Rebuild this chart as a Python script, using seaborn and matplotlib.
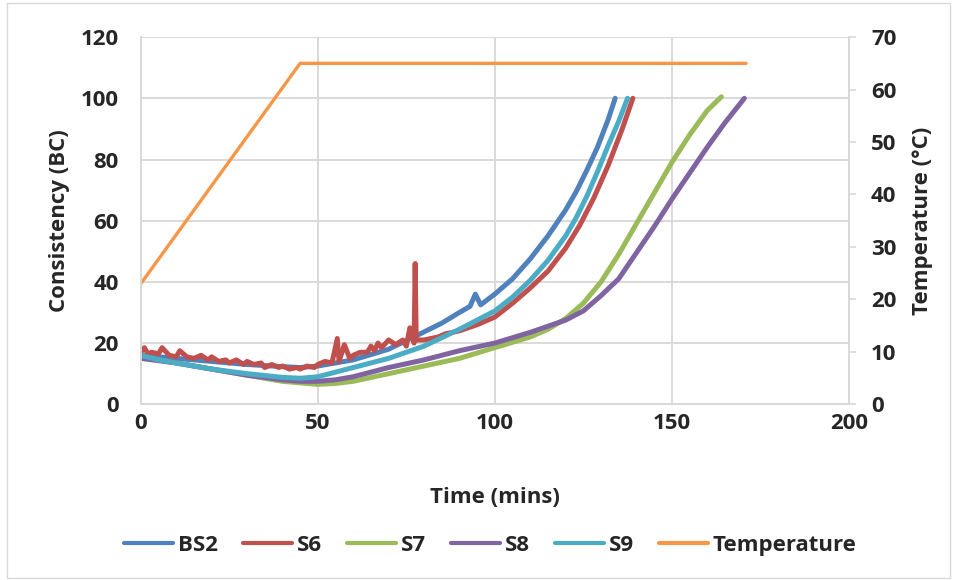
import numpy as np
import pandas as pd
import matplotlib
matplotlib.use("Agg")
import matplotlib.pyplot as plt
import seaborn as sns
from matplotlib.patches import Rectangle

# ---- data ----
bs2_x = [0, 10, 20, 30, 40, 45, 50, 60, 70, 78, 85, 90, 93, 94.5, 96, 100, 105, 110, 115, 120, 123, 126, 129, 132, 134]
bs2_y = [16, 15, 14, 13, 12.3, 12, 12.5, 14.5, 18, 22.5, 26.5, 30, 32, 36, 32.5, 36, 41, 47.5, 55, 63.5, 69.5, 76.5, 84, 93, 100]

s6_x = [0, 1, 2, 3, 5, 6, 8, 10, 11, 13, 15, 17, 19, 20, 22, 24, 25, 27, 29, 30, 32, 34, 35, 37, 39, 40,
        42, 44, 45, 47, 49, 50, 52, 54, 55.5, 56, 57.5, 59, 60, 62, 64, 65, 66, 67, 68, 70, 72, 74, 75,
        76, 77.2, 77.5, 77.8, 79, 80, 82, 84, 86, 90, 95, 100, 105, 110, 115, 120, 124, 128, 132, 136, 139]
s6_y = [17, 18.5, 16.5, 17, 16.5, 18.5, 16, 15.5, 17.5, 15.5, 15, 16, 14.5, 15.5, 14, 14.5, 13.5, 14.5, 13, 14, 13, 13.5, 12, 13, 12, 12.5,
        11.5, 12, 11.5, 12.5, 12, 13, 14, 13.5, 21.5, 14, 19.5, 15, 16, 17, 17, 19, 17.5, 20, 18.5, 21, 19.5, 21, 19,
        25, 20, 46, 21, 21, 21, 21.5, 22, 23, 24, 26, 28.5, 33, 38, 43.5, 51, 58.5, 67.5, 78, 90, 100]

s7_x = [0, 10, 20, 30, 40, 45, 50, 55, 60, 70, 80, 90, 100, 110, 115, 120, 125, 130, 135, 140, 145, 150, 155, 160, 164]
s7_y = [15.5, 13.5, 11.5, 9.5, 7.5, 7, 6.5, 6.8, 7.5, 10, 12.5, 15, 18.5, 22, 24.5, 28, 33, 40, 49, 59, 69, 79, 88, 96, 100.5]

s8_x = [0, 10, 20, 30, 40, 45, 50, 55, 60, 70, 80, 90, 100, 110, 115, 120, 125, 130, 135, 140, 145, 150, 155, 160, 165, 170.5]
s8_y = [15, 13.5, 11.5, 9.5, 8, 7.5, 7.5, 8, 9, 12, 14.5, 17.5, 20, 23.5, 25.5, 27.5, 30.5, 35.5, 41, 49.5, 58, 67, 75.5, 84, 92, 100]

s9_x = [0, 5, 10, 20, 30, 40, 45, 50, 55, 60, 70, 80, 90, 95, 100, 105, 110, 115, 120, 123, 126, 129, 132, 135, 137.5]
s9_y = [16, 14.5, 13.5, 11.5, 10, 8.8, 8.5, 9, 10.5, 12, 15, 19, 24.5, 27.5, 30.5, 35, 40.5, 47, 55, 61, 68, 76, 84.5, 92.5, 100]

temp_x = [0, 45, 171]
temp_y = [23, 65, 65]

series_names = ["BS2", "S6", "S7", "S8", "S9"]
series_x = [bs2_x, s6_x, s7_x, s8_x, s9_x]
series_y = [bs2_y, s6_y, s7_y, s8_y, s9_y]
colors = ["#4F81BD", "#C0504D", "#9BBB59", "#8064A2", "#4BACC6"]
temp_color = "#F79646"

sns.set_style("white")
plt.rcParams["font.family"] = ["Open Sans", "DejaVu Sans"]
W = "bold"
FS = 16

fig = plt.figure(figsize=(9.58, 5.8), dpi=100)
ax = fig.add_axes([0.147, 0.303, 0.739, 0.633])
ax2 = ax.twinx()

for name, xs, ys, c in zip(series_names, series_x, series_y, colors):
    df = pd.DataFrame({"Time": xs, "BC": ys})
    sns.lineplot(data=df, x="Time", y="BC", ax=ax, color=c, linewidth=3.6,
                 estimator=None, sort=False, label=name, legend=False,
                 solid_capstyle="round", solid_joinstyle="round", zorder=3)

tdf = pd.DataFrame({"Time": temp_x, "Temp": temp_y})
sns.lineplot(data=tdf, x="Time", y="Temp", ax=ax2, color=temp_color, linewidth=2.4,
             estimator=None, sort=False, label="Temperature", legend=False)

grid_c = "#D9D9D9"
ax.set_xlim(0, 200)
ax.set_ylim(0, 120)
ax.set_xticks(np.arange(0, 201, 50))
ax.set_yticks(np.arange(0, 121, 20))
ax2.set_ylim(0, 70)
ax2.set_yticks(np.arange(0, 71, 10))
ax.grid(True, color=grid_c, linewidth=1.4)
ax.set_axisbelow(True)

for a in (ax, ax2):
    a.spines["top"].set_visible(False)
    for side in ("left", "bottom", "right"):
        a.spines[side].set_color(grid_c)
        a.spines[side].set_linewidth(1.4)

ax.tick_params(axis="both", length=0, labelsize=FS)
ax.tick_params(axis="y", pad=16)
ax.tick_params(axis="x", pad=6)
ax2.tick_params(axis="y", length=5, width=1.2, color=grid_c, labelsize=FS, pad=11)
for lab in ax.get_xticklabels() + ax.get_yticklabels() + ax2.get_yticklabels():
    lab.set_fontweight(W)

ax.set_xlabel("Time (mins)", fontsize=FS, fontweight=W)
ax.set_ylabel("Consistency (BC)", fontsize=FS, fontweight=W)
ax2.set_ylabel("Temperature (\u00b0C)", fontsize=FS, fontweight=W)
ax.xaxis.set_label_coords(0.5, -0.226)
ax.yaxis.set_label_coords(-0.1, 0.5)
ax2.yaxis.set_label_coords(1.089, 0.5)

h1, l1 = ax.get_legend_handles_labels()
h2, l2 = ax2.get_legend_handles_labels()
leg = fig.legend(h1 + h2, l1 + l2, loc="center", bbox_to_anchor=(0.512, 0.06), ncol=6,
                 frameon=False, fontsize=FS, handlelength=2.2, handletextpad=0.2,
                 columnspacing=1.15)
for line in leg.get_lines():
    line.set_linewidth(3)
for t in leg.get_texts():
    t.set_fontweight(W)

fig.patches.append(Rectangle((0.007, 0.004), 0.985, 0.99, transform=fig.transFigure,
                             fill=False, edgecolor="#D9D9D9", linewidth=1.0))

fig.savefig("out.png", dpi=100)
